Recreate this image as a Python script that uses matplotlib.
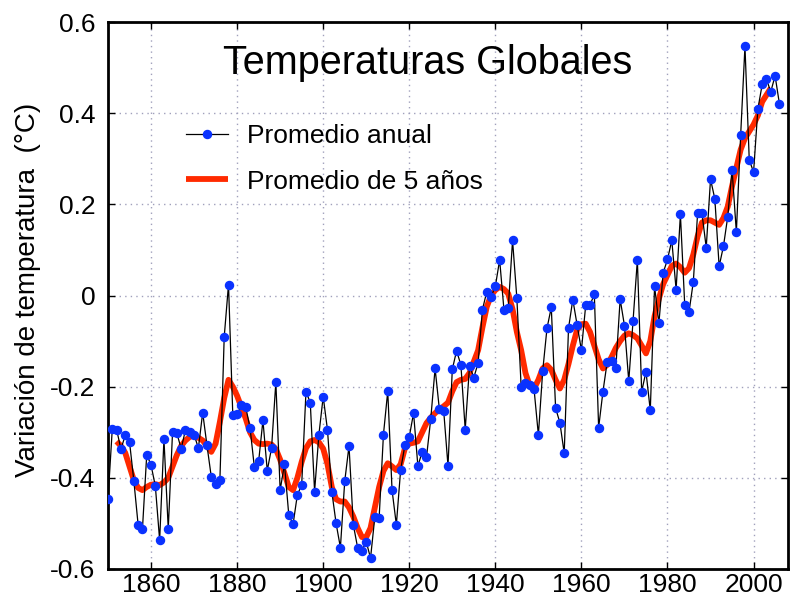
import matplotlib
matplotlib.use("Agg")
import matplotlib.pyplot as plt
from matplotlib.ticker import FuncFormatter

plt.rcParams['font.family'] = ['Liberation Sans', 'DejaVu Sans']

# Annual global temperature anomaly (deg C), 1850-2006
years_annual = list(range(1850, 2007))
annual = [
    -0.447, -0.292, -0.294, -0.337, -0.307, -0.321, -0.406, -0.503, -0.513, -0.349,  # 1850s
    -0.372, -0.418, -0.537, -0.315, -0.512, -0.299, -0.302, -0.336, -0.295, -0.300,  # 1860s
    -0.305, -0.335, -0.257, -0.329, -0.398, -0.414, -0.405, -0.091, 0.024, -0.263,   # 1870s
    -0.260, -0.241, -0.245, -0.290, -0.376, -0.364, -0.274, -0.384, -0.335, -0.190,  # 1880s
    -0.427, -0.370, -0.481, -0.502, -0.437, -0.416, -0.211, -0.235, -0.430, -0.305,  # 1890s
    -0.222, -0.295, -0.430, -0.500, -0.553, -0.408, -0.330, -0.503, -0.553, -0.560,  # 1900s
    -0.540, -0.576, -0.486, -0.488, -0.305, -0.210, -0.427, -0.503, -0.382, -0.328,  # 1910s
    -0.310, -0.258, -0.374, -0.343, -0.355, -0.270, -0.160, -0.250, -0.253, -0.374,  # 1920s
    -0.162, -0.121, -0.153, -0.294, -0.155, -0.180, -0.148, -0.031, 0.008, -0.003,   # 1930s
    0.020, 0.078, -0.031, -0.028, 0.121, -0.006, -0.201, -0.192, -0.196, -0.206,     # 1940s
    -0.306, -0.166, -0.072, -0.026, -0.247, -0.279, -0.346, -0.072, -0.009, -0.064,  # 1950s
    -0.120, -0.021, -0.021, 0.003, -0.290, -0.211, -0.145, -0.143, -0.158, -0.008,   # 1960s
    -0.066, -0.188, -0.055, 0.078, -0.211, -0.167, -0.252, 0.020, -0.061, 0.050,     # 1970s
    0.079, 0.121, 0.013, 0.178, -0.020, -0.036, 0.030, 0.181, 0.181, 0.105,          # 1980s
    0.255, 0.212, 0.064, 0.108, 0.173, 0.276, 0.139, 0.352, 0.547, 0.297,            # 1990s
    0.271, 0.409, 0.463, 0.474, 0.447, 0.482, 0.421,                                 # 2000s
]

# Five-year smoothed curve, 1852-2004
years_smooth = list(range(1852, 2005))
smooth = [
    -0.320, -0.330, -0.345, -0.375, -0.405, -0.422, -0.427, -0.420,                  # 1852-1859
    -0.415, -0.414, -0.416, -0.410, -0.400, -0.375, -0.350, -0.330, -0.318, -0.310,  # 1860s
    -0.308, -0.312, -0.318, -0.330, -0.343, -0.325, -0.277, -0.225, -0.185, -0.200,  # 1870s
    -0.220, -0.245, -0.270, -0.300, -0.317, -0.325, -0.326, -0.325, -0.327, -0.337,  # 1880s
    -0.360, -0.390, -0.420, -0.427, -0.400, -0.365, -0.335, -0.320, -0.317, -0.322,  # 1890s
    -0.336, -0.370, -0.420, -0.447, -0.452, -0.452, -0.465, -0.485, -0.510, -0.530,  # 1900s
    -0.530, -0.510, -0.465, -0.420, -0.385, -0.368, -0.375, -0.383, -0.370, -0.335,  # 1910s
    -0.325, -0.323, -0.320, -0.300, -0.280, -0.268, -0.258, -0.250, -0.243, -0.235,  # 1920s
    -0.210, -0.190, -0.185, -0.183, -0.170, -0.145, -0.120, -0.070, -0.025, 0.000,   # 1930s
    0.012, 0.019, 0.014, 0.004, -0.030, -0.080, -0.120, -0.170, -0.198, -0.204,      # 1940s
    -0.185, -0.160, -0.153, -0.163, -0.185, -0.204, -0.185, -0.150, -0.110, -0.075,  # 1950s
    -0.063, -0.062, -0.080, -0.110, -0.140, -0.160, -0.152, -0.135, -0.115, -0.100,  # 1960s
    -0.088, -0.083, -0.087, -0.094, -0.110, -0.127, -0.100, -0.045, -0.007, 0.025,   # 1970s
    0.045, 0.065, 0.070, 0.062, 0.050, 0.060, 0.090, 0.130, 0.160, 0.165,            # 1980s
    0.165, 0.160, 0.155, 0.170, 0.195, 0.240, 0.280, 0.320, 0.345, 0.360,            # 1990s
    0.375, 0.395, 0.425, 0.440, 0.455,                                               # 2000-2004
]

x_ticks = [1860, 1880, 1900, 1920, 1940, 1960, 1980, 2000]
y_ticks = [-0.6, -0.4, -0.2, 0.0, 0.2, 0.4, 0.6]

title_text = "Temperaturas Globales"
ylabel_text = "Variación de temperatura  (°C)"
label_annual = "Promedio anual"
label_smooth = "Promedio de 5 años"

fig = plt.figure(figsize=(7.91, 6.0), dpi=100)
ax = fig.add_axes([108 / 791, 31 / 600, 680 / 791, 547 / 600])

ax.plot(years_smooth, smooth, color='#ff2a00', lw=4.2, solid_capstyle='butt',
        solid_joinstyle='round', label=label_smooth, zorder=3)
ax.plot(years_annual, annual, color='black', lw=0.9, marker='o', markersize=5.8,
        markerfacecolor='#0a32ff', markeredgecolor='#0a32ff', label=label_annual, zorder=4)

ax.set_xlim(1850, 2008)
ax.set_ylim(-0.6, 0.6)
ax.set_xticks(x_ticks)
ax.set_yticks(y_ticks)

def yfmt(v, pos):
    if abs(v) < 1e-9:
        return "0"
    return ("%.1f" % v).replace("\u2212", "-")

ax.yaxis.set_major_formatter(FuncFormatter(yfmt))
ax.tick_params(axis='both', direction='in', length=5, width=1, labelsize=19,
               top=True, right=True, colors='black')
ax.tick_params(axis='y', pad=9)
ax.tick_params(axis='x', pad=3)

ax.grid(True, which='major', linestyle=(0, (1, 3)), color='#a0a0bc', linewidth=1.0)
ax.set_axisbelow(True)
for s in ['left', 'bottom', 'top', 'right']:
    ax.spines[s].set_linewidth(2.0)
    ax.spines[s].set_color('black')

ax.set_ylabel(ylabel_text, fontsize=20, va='center')
ax.yaxis.set_label_coords(-0.118, 0.51)

ax.text(0.47, 0.925, title_text, transform=ax.transAxes, ha='center', va='center',
        fontsize=28.5, color='black')

handles, labels = ax.get_legend_handles_labels()
order = [labels.index(label_annual), labels.index(label_smooth)]
ax.legend([handles[i] for i in order], [labels[i] for i in order],
          loc='upper left', bbox_to_anchor=((186 - 108) / 680, (569 - 124) / 547),
          frameon=False, fontsize=19, handlelength=1.6, handletextpad=0.7,
          labelspacing=0.82, borderpad=0, borderaxespad=0, markerscale=1.0)

fig.savefig("out.png", dpi=100)
